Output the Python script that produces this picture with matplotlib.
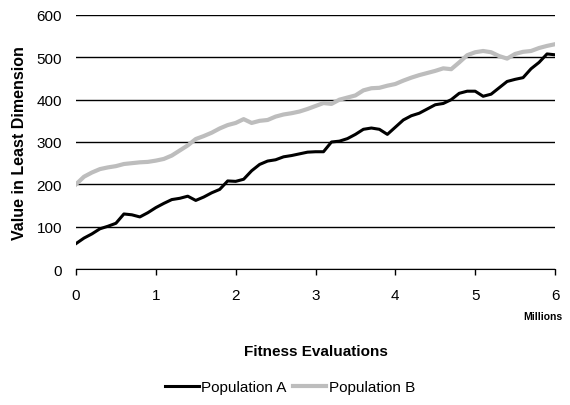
import matplotlib
matplotlib.use("Agg")
import matplotlib.pyplot as plt
import numpy as np

x_millions = [round(i * 0.1, 1) for i in range(61)]
pop_a = [60, 73, 83, 95, 101, 108, 130, 128, 123, 133,
         145, 155, 164, 167, 172, 162, 170, 180, 188, 208,
         207, 212, 232, 247, 255, 258, 265, 268, 272, 276,
         277, 277, 300, 302, 308, 318, 330, 333, 330, 318,
         335, 352, 362, 368, 378, 388, 391, 400, 415, 420,
         420, 408, 413, 428, 443, 448, 452, 473, 488, 508, 506]
pop_b = [200, 218, 228, 236, 240, 243, 248, 250, 252, 253,
         256, 260, 268, 280, 292, 307, 314, 322, 332, 340,
         345, 354, 345, 350, 352, 360, 365, 368, 372, 378,
         385, 392, 390, 400, 405, 410, 422, 427, 428, 433,
         437, 445, 452, 458, 463, 468, 474, 472, 488, 505,
         512, 515, 512, 503, 497, 508, 513, 515, 522, 527, 531]
x_ticks = [0, 1, 2, 3, 4, 5, 6]
y_ticks = [0, 100, 200, 300, 400, 500, 600]

plt.rcParams['font.family'] = ['Liberation Sans', 'DejaVu Sans']

fig = plt.figure(figsize=(5.7, 4.06), dpi=100)
ax = fig.add_axes([76/570, 136/406, (555-76)/570, (270-16)/406])

ax.plot(x_millions, pop_a, color='black', lw=2.2, label='Population A', zorder=3)
ax.plot(x_millions, pop_b, color='#bdbdbd', lw=3.0, label='Population B', zorder=2)

ax.set_xlim(0, 6)
ax.set_ylim(0, 600)
ax.set_xticks(x_ticks)
ax.set_yticks(y_ticks)
ax.grid(axis='y', color='black', lw=1)
ax.set_axisbelow(True)
for s in ['top', 'right', 'left']:
    ax.spines[s].set_visible(False)
ax.spines['bottom'].set_color('black')
ax.tick_params(axis='x', direction='out', length=4, width=1, pad=10, labelsize=11)
ax.tick_params(axis='y', length=0, pad=10, labelsize=11)

ax.set_ylabel('Value in Least Dimension', fontsize=11.5, fontweight='bold', labelpad=7)
fig.text(543/570, 1 - 317/406, 'Millions', fontsize=7.5, fontweight='bold', ha='center', va='center')
fig.text(316/570, 1 - 352/406, 'Fitness Evaluations', fontsize=11, fontweight='bold', ha='center', va='center')

fig.legend(loc='center', bbox_to_anchor=(290/570, 1 - 388/406), ncol=2, frameon=False,
           fontsize=11, handlelength=2.2, handletextpad=0.15, columnspacing=0.4)

fig.savefig('out.png', dpi=100)
